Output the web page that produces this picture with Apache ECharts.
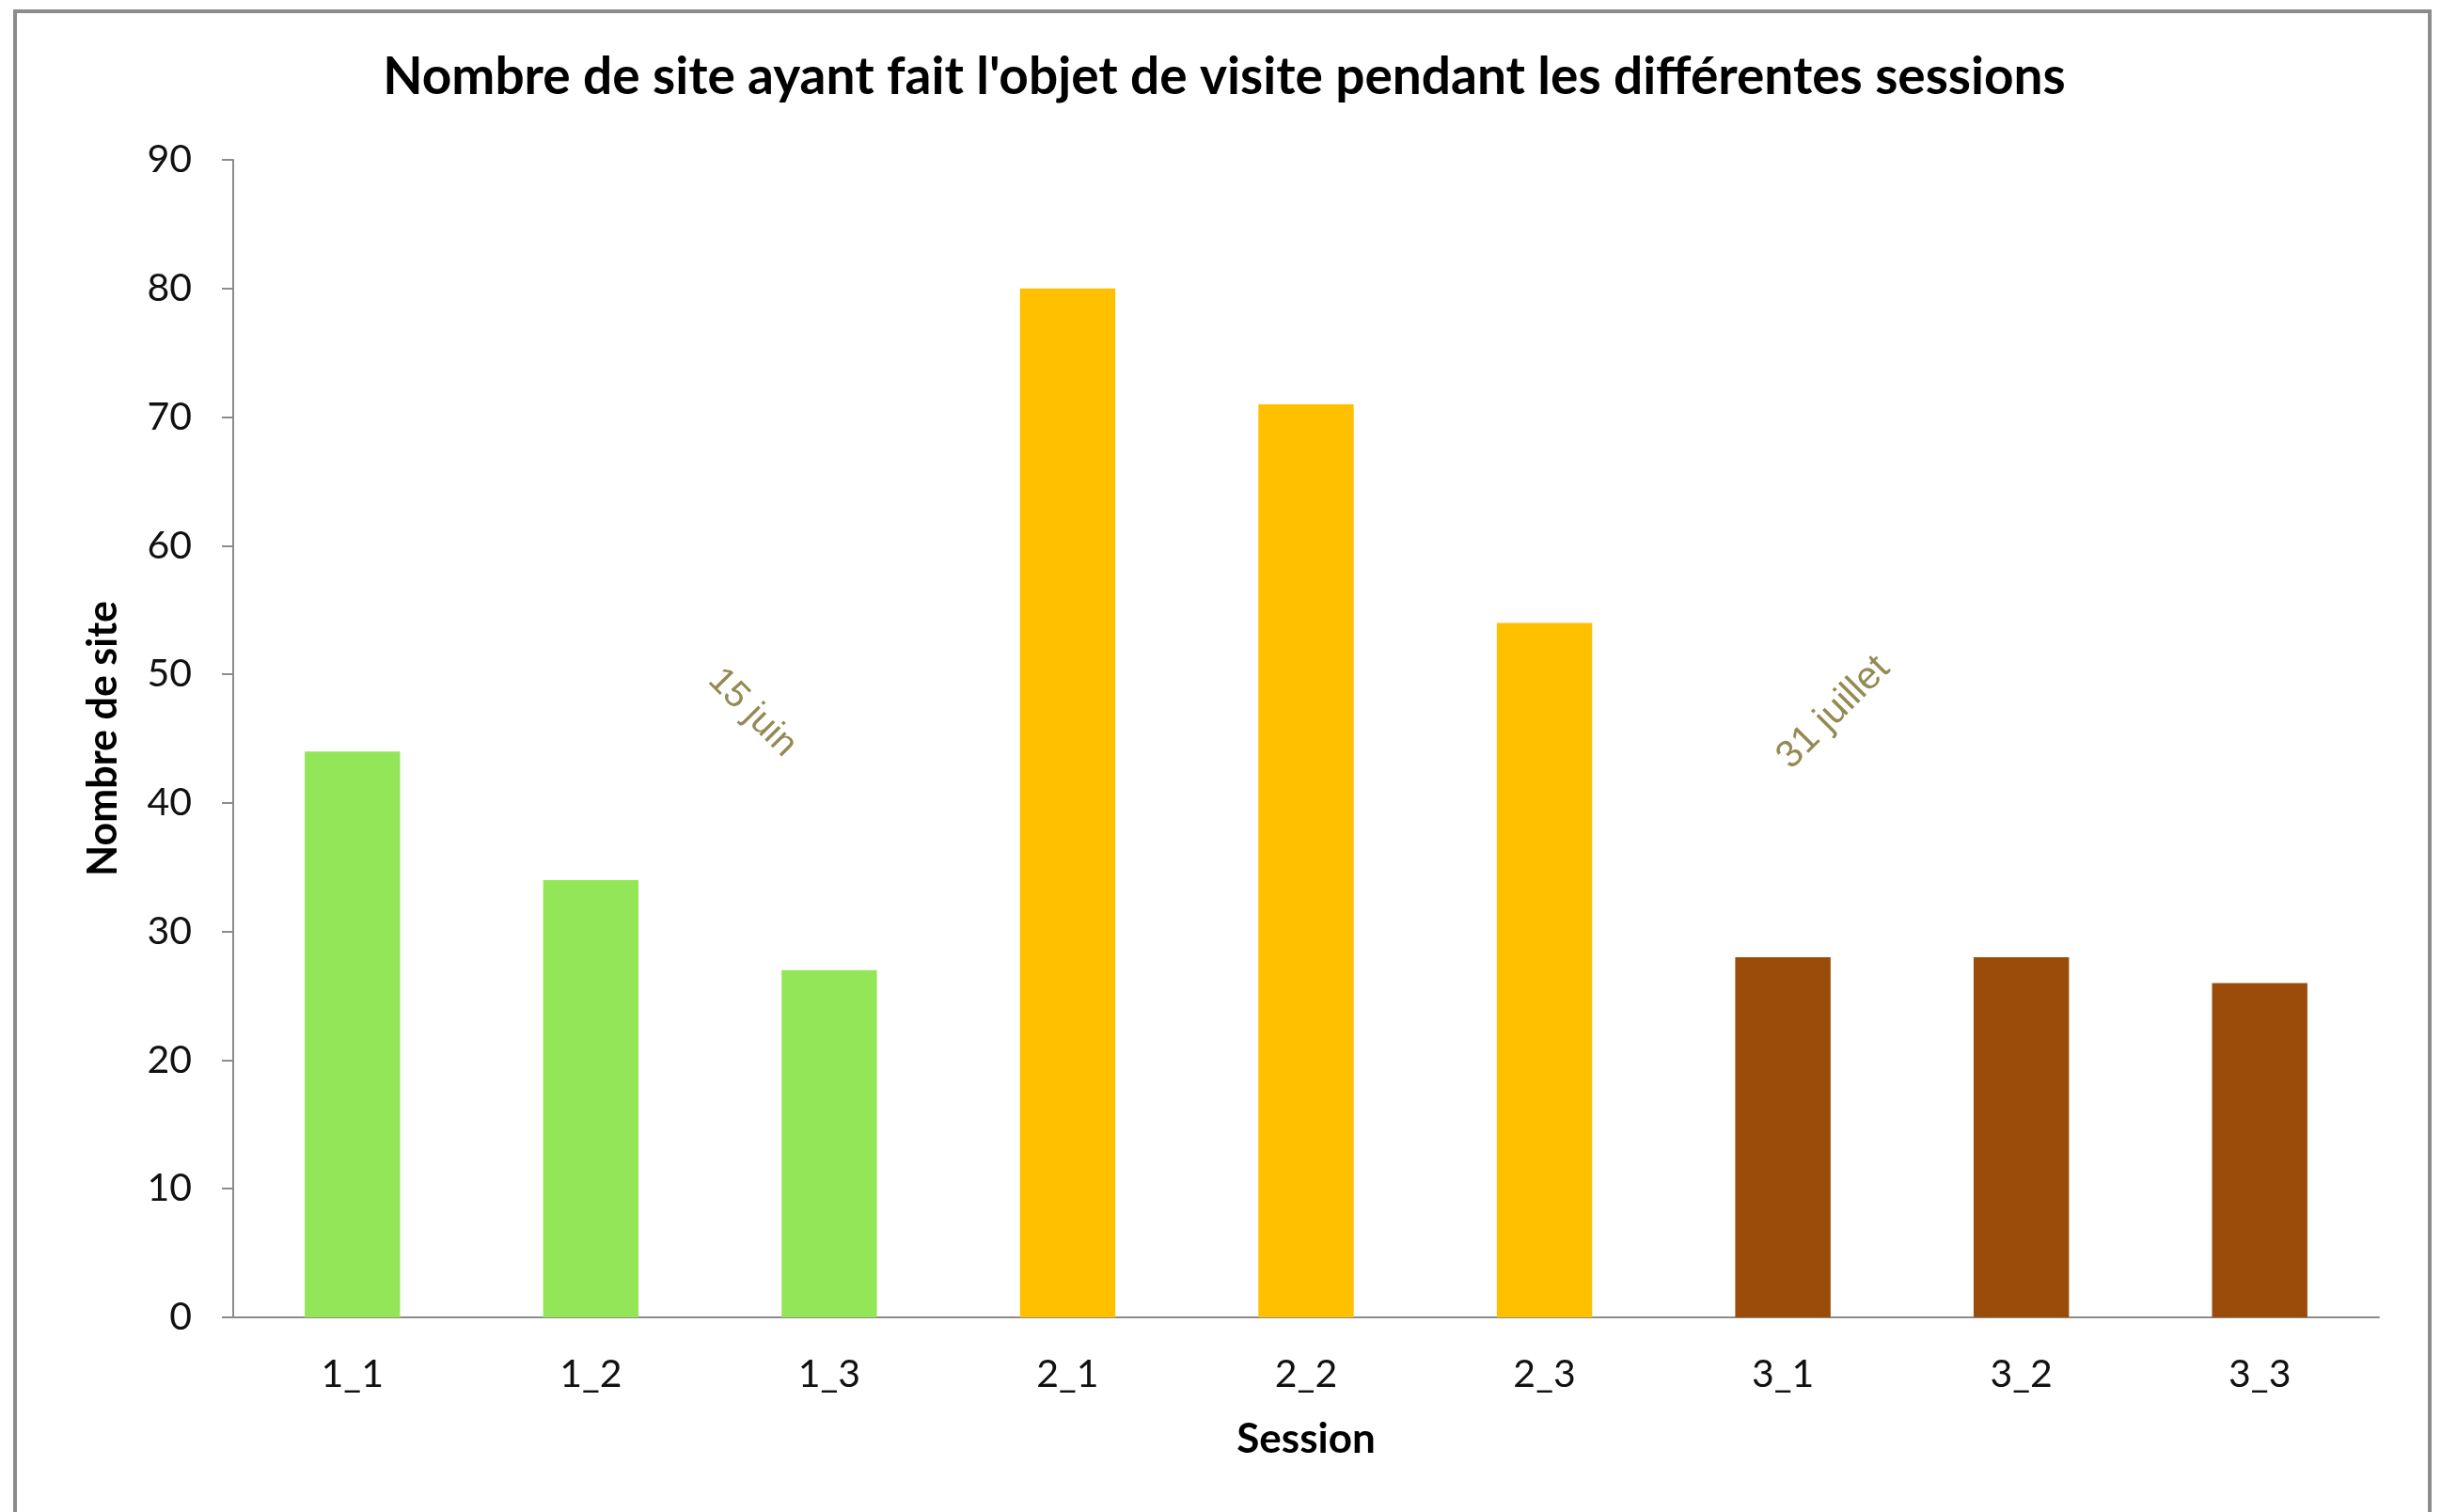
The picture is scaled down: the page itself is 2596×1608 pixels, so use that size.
<!DOCTYPE html>
<html>
<head>
<meta charset="utf-8">
<script src="https://cdn.jsdelivr.net/npm/echarts@6/dist/echarts.min.js"></script>
<style>
  html, body { margin: 0; padding: 0; background: #fff; }
  #chart { width: 2596px; height: 1608px; }
</style>
</head>
<body>
<div id="chart"></div>
<script>
// sessions and number of visited sites
const sessions = ['1_1', '1_2', '1_3', '2_1', '2_2', '2_3', '3_1', '3_2', '3_3']
const siteCounts = [44, 34, 27, 80, 71, 54, 28, 28, 26]
const sessionColors = ['#92E657', '#92E657', '#92E657', '#FFC000', '#FFC000', '#FFC000', '#9C4C0A', '#9C4C0A', '#9C4C0A']
const yTicks = { min: 0, max: 90, interval: 10 }

const myChart = echarts.init(document.getElementById('chart'))

myChart.setOption({
  backgroundColor: '#fff',
  title: {
    text: "Nombre de site ayant fait l'objet de visite pendant les différentes sessions",
    left: 1297,
    textAlign: 'center',
    top: 50,
    textStyle: { fontFamily: 'Lato', fontWeight: 'bold', fontSize: 55, color: '#000' }
  },
  grid: { left: 248, right: 66, top: 170, bottom: 207 },
  xAxis: {
    type: 'category',
    data: sessions,
    name: 'Session',
    nameLocation: 'middle',
    nameGap: 108,
    nameTextStyle: { fontFamily: 'Lato', fontWeight: 'bold', fontSize: 44, color: '#000' },
    axisLine: { lineStyle: { color: '#8c8c8c', width: 2 } },
    axisTick: { length: 12, lineStyle: { color: '#8c8c8c', width: 2 } },
    axisLabel: { fontFamily: 'Lato', fontSize: 41, color: '#111', margin: 40 }
  },
  yAxis: {
    type: 'value',
    min: yTicks.min,
    max: yTicks.max,
    interval: yTicks.interval,
    name: 'Nombre de site',
    nameLocation: 'middle',
    nameGap: 116,
    nameTextStyle: { fontFamily: 'Lato', fontWeight: 'bold', fontSize: 43, color: '#000' },
    axisLine: { show: true, lineStyle: { color: '#8c8c8c', width: 2 } },
    axisTick: { show: true, length: 12, lineStyle: { color: '#8c8c8c', width: 2 } },
    splitLine: { show: false },
    axisLabel: { fontFamily: 'Lato', fontSize: 41, color: '#111', margin: 44 }
  },
  series: [
    {
      type: 'bar',
      barCategoryGap: '60%',
      data: siteCounts.map((v, i) => ({ value: v, itemStyle: { color: sessionColors[i] } }))
    }
  ],
  graphic: [
    {
      type: 'rect',
      shape: { x: 16, y: 12, width: 2568, height: 1640 },
      style: { fill: 'none', stroke: '#8c8c8c', lineWidth: 4 },
      silent: true
    },
    {
      type: 'text',
      x: 800, y: 758,
      rotation: -Math.PI / 4,
      style: { text: '15 juin', fontFamily: 'Liberation Sans', fontSize: 39, fill: '#948A54', align: 'center', verticalAlign: 'middle' }
    },
    {
      type: 'text',
      x: 1950, y: 758,
      rotation: Math.PI / 4,
      style: { text: '31 juillet', fontFamily: 'Liberation Sans', fontSize: 41, fill: '#948A54', align: 'center', verticalAlign: 'middle' }
    }
  ]
})
</script>
</body>
</html>
